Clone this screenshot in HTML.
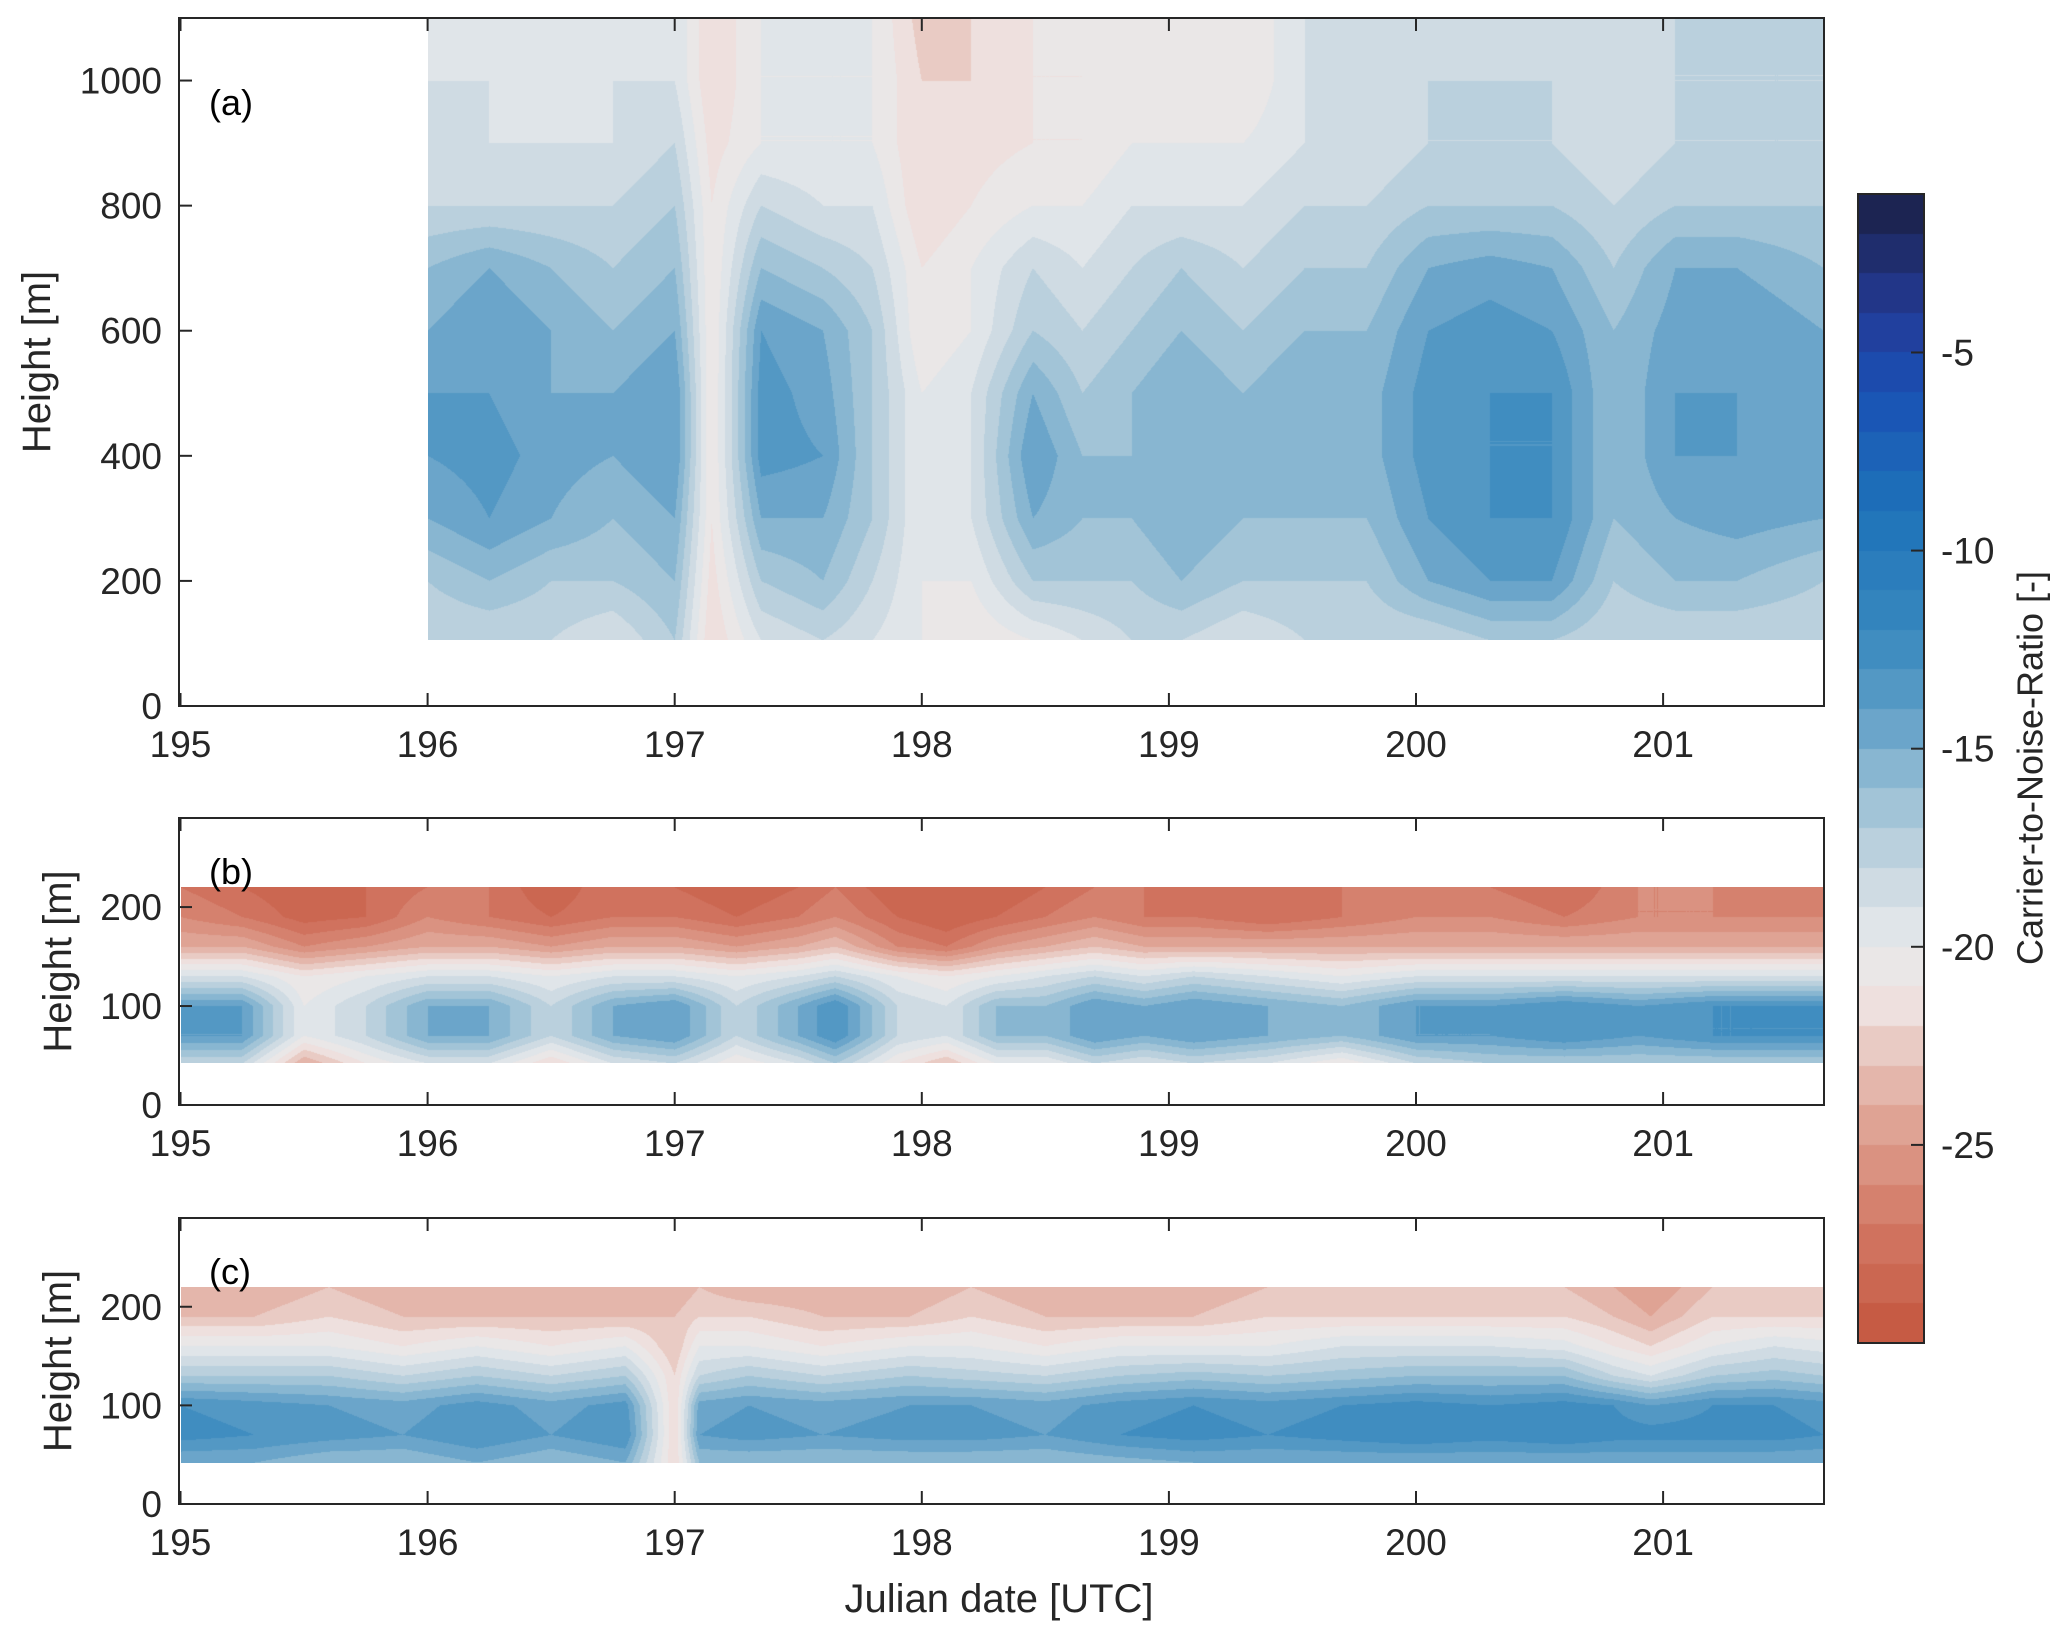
<!DOCTYPE html>
<html><head><meta charset="utf-8">
<style>
html,body{margin:0;padding:0;background:#fff;}
#wrap{position:relative;width:2067px;height:1641px;overflow:hidden;font-family:"Liberation Sans",sans-serif;}
canvas{position:absolute;}
svg{position:absolute;left:0;top:0;}
</style></head>
<body>
<div id="wrap">
<canvas id="ca"></canvas>
<canvas id="cb"></canvas>
<canvas id="cc"></canvas>
<canvas id="cbar"></canvas>
<svg id="svg" width="2067" height="1641"></svg>
</div>
<script>
// ---- data ----
const timesA=[196.0,196.25,196.5,196.75,197.0,197.15,197.35,197.6,197.8,198.0,198.2,198.45,198.65,198.85,199.05,199.3,199.55,199.8,200.05,200.3,200.55,200.8,201.05,201.3,201.65];
const heightsA=[105,200,300,400,500,600,700,800,900,1000,1100];
const cnrA=[
[-18,-17,-15,-14,-14,-15,-16,-18,-19,-19,-20],
[-18,-16,-14,-13.5,-14,-14,-15,-18,-19,-19,-19],
[-18,-17,-15,-14.5,-15,-15,-16,-18,-19,-20,-20],
[-19,-17,-16,-15,-15,-16,-17,-18,-19,-19,-20],
[-17,-16,-15,-14,-14,-15,-16,-17,-18,-19,-19],
[-22,-21.5,-21,-21,-21,-21,-21,-21,-21.5,-22,-22],
[-19,-17,-15,-13.5,-13.5,-14,-16,-18,-20,-20,-20],
[-18,-16,-15,-14,-14.5,-15,-17,-19,-20,-20,-20],
[-19,-18,-17,-17,-17,-17,-18,-19,-20,-20,-20],
[-20,-20,-20,-20,-20,-21,-21,-22,-22,-22,-22.5],
[-21,-20,-19,-19,-19,-20,-20,-21,-21.5,-22,-22],
[-20,-17,-15,-14,-15,-17,-18,-20,-21,-21,-21],
[-19,-17,-16,-16,-17,-18,-19,-20,-21,-21,-21],
[-18,-17,-16,-16,-16,-17,-18,-19,-20,-20,-20],
[-18,-16,-15,-15,-15,-16,-17,-19,-20,-20.5,-21],
[-19,-17,-16,-16,-16,-17,-18,-19,-20,-21,-21],
[-18,-17,-16,-15,-15,-16,-17,-18,-19,-19,-19],
[-18,-17,-16,-15.5,-15.5,-16,-17,-18,-19,-19,-19],
[-18,-15,-14,-13.5,-13.5,-14,-15,-17,-18,-18,-18],
[-17,-14,-13,-13,-13,-13.5,-14.5,-17,-18,-18,-19],
[-17,-14,-13,-13,-13,-14,-15,-17,-18,-18,-18],
[-18,-17,-16,-16,-16,-16,-17,-18,-19,-19,-19],
[-18,-16,-15,-14,-14,-14.5,-15,-17,-18,-18,-18],
[-18,-16,-14.5,-14,-14,-14,-15,-17,-18,-18,-18],
[-18,-17,-15,-14.5,-14.5,-15,-16,-17,-18,-18,-18]];

const timesB=[195.0,195.25,195.5,195.75,196.0,196.25,196.5,196.75,197.0,197.25,197.5,197.65,197.9,198.1,198.3,198.5,198.7,198.9,199.1,199.4,199.7,200.0,200.3,200.6,200.9,201.2,201.4,201.65];
const heightsB=[42,70,100,130,160,190,220];
const cnrB=[
[-18,-14,-14,-19,-24,-26,-27],[-18,-14,-14,-19,-24,-27,-28],[-24,-20,-20,-21,-26,-28.5,-29],[-21,-18,-18,-20,-25,-28,-28],
[-19,-15,-15,-19,-24,-26,-27],[-19,-15,-15,-19,-24,-27,-27],[-22,-18,-18,-20,-25,-28,-29],[-19,-15,-15,-19,-24,-27,-27],
[-18,-14,-14,-19,-24,-27,-28],[-21,-18,-18,-20,-25,-28,-29],[-19,-15,-15,-19,-24,-27,-28],[-17,-13,-13,-18,-23,-26,-27],
[-21,-18,-18,-20,-26,-28,-29],[-23,-19,-19,-21,-27,-29,-29],[-20,-16,-16,-20,-25,-28,-29],[-20,-16,-16,-19,-24,-27,-28],
[-18,-14,-14,-18,-23,-26,-27],[-19,-15,-15,-19,-24,-27,-27],[-18,-14,-14,-18,-24,-27,-28],[-19,-15,-15,-19,-24,-28,-28],
[-21,-16,-16,-20,-24,-27,-27],[-18,-14,-14,-19,-24,-26,-27],[-17,-14,-14,-19,-24,-26,-27],[-17,-13,-13,-19,-24,-27,-28],
[-17,-14,-14,-19,-24,-26,-26],[-17,-13,-13,-19,-24,-26,-26],[-17,-13,-13,-19,-24,-26,-27],[-17,-13,-13,-19,-24,-26,-27]];

const timesC=[195.0,195.3,195.6,195.9,196.2,196.5,196.8,197.0,197.1,197.3,197.6,197.95,198.2,198.5,198.8,199.1,199.4,199.7,200.0,200.3,200.6,200.8,200.95,201.2,201.45,201.65];
const heightsC=[42,70,100,130,160,190,220];
const cnrC=[
[-15,-12.5,-13,-17,-20,-23,-24],[-15,-13,-13.5,-17,-20,-23,-24],[-16,-13.5,-14,-17,-20,-22,-23],[-16,-14,-14.5,-18,-21,-23,-24],
[-15,-13,-13.5,-17,-20,-23,-24],[-16,-14,-14.5,-18,-21,-23,-24],[-15,-13,-13.5,-17,-20,-23,-24],[-22,-22,-22,-22,-23,-23,-24],
[-16,-14,-14.5,-18,-20,-22,-23],[-16,-13.5,-14,-17,-20,-22,-24],[-16,-14,-14.5,-18,-21,-23,-24],[-16,-13.5,-14,-17,-20,-23,-24],
[-16,-13.5,-14,-17.5,-20,-22,-23],[-16,-14,-14.5,-18,-21,-23,-24],[-15.5,-13,-13.5,-17,-20,-23,-24],[-15,-12.5,-13,-16.5,-20,-23,-24],
[-15,-13,-13.5,-17,-20,-22,-23],[-15,-12.5,-13,-16.5,-19,-22,-23],[-15,-12,-12.5,-16,-19,-22,-23],[-15,-12.5,-13,-16,-19,-22,-23],
[-15,-12,-12.5,-16,-19.5,-22,-23],[-15,-12.5,-13,-18,-21,-23,-24],[-15,-12.5,-14,-19,-22,-24,-25],[-15,-12.5,-13,-17,-20,-22,-23],
[-15,-12.5,-13,-16.5,-19,-22,-23],[-15,-13,-13.5,-17,-19.5,-22,-23]];

const xTicks=[195,196,197,198,199,200,201];
const yTicksA=[0,200,400,600,800,1000];
const yTicksB=[0,100,200];
const cbTicks=[-5,-10,-15,-20,-25];
// ---- layout ----
const X0=180.5, DX=247.1, XMIN=195, XMAX=201.65;
const panels=[
 {id:'a',T:18,B:706,ymax:1100,times:timesA,hs:heightsA,v:cnrA,yt:yTicksA,tx:37,label:'(a)',ly:115},
 {id:'b',T:818,B:1105,ymax:290,times:timesB,hs:heightsB,v:cnrB,yt:yTicksB,tx:58,label:'(b)',ly:884},
 {id:'c',T:1218,B:1504,ymax:290,times:timesC,hs:heightsC,v:cnrC,yt:yTicksB,tx:58,label:'(c)',ly:1284}];
const L=179,R=1824;
const CB={L:1858,R:1924,T:194,B:1343,min:-30,max:-1};
const stops=[[-30,[196,85,62]],[-27,[210,120,100]],[-24,[226,172,158]],[-21.5,[238,224,222]],[-20,[232,234,236]],[-18,[198,214,224]],[-16,[150,190,212]],[-14,[92,157,198]],[-12,[55,135,190]],[-9,[30,115,185]],[-6,[25,80,180]],[-4,[35,58,150]],[-1,[26,31,68]]];
function cmap(v){
  v=Math.floor(v)+0.5;
  if(v<=stops[0][0])return stops[0][1];
  for(let i=1;i<stops.length;i++){if(v<=stops[i][0]){const a=stops[i-1],b=stops[i];const t=(v-a[0])/(b[0]-a[0]);return a[1].map((c,k)=>Math.round(c+(b[1][k]-c)*t));}}
  return stops[stops.length-1][1];
}
const xs=t=>X0+(t-XMIN)*DX;
function interp(arr,val){let i=0;while(i<arr.length-2&&val>arr[i+1])i++;let t=(val-arr[i])/(arr[i+1]-arr[i]);return [i,Math.max(0,Math.min(1,t))];}
function drawHeat(p){
  const ys=h=>p.B-(h/p.ymax)*(p.B-p.T);
  const x1=Math.round(xs(p.times[0])),x2=Math.round(xs(p.times[p.times.length-1]));
  const y1=Math.round(ys(p.hs[p.hs.length-1])),y2=Math.round(ys(p.hs[0]));
  const c=document.getElementById('c'+p.id);c.width=x2-x1;c.height=y2-y1;c.style.left=x1+'px';c.style.top=y1+'px';
  const ctx=c.getContext('2d');const img=ctx.createImageData(c.width,c.height);
  for(let px=0;px<c.width;px++){
    const t=XMIN+(x1+px+0.5-X0)/DX;const [i,ft]=interp(p.times,t);
    for(let py=0;py<c.height;py++){
      const h=(p.B-(y1+py+0.5))/(p.B-p.T)*p.ymax;const [j,fh]=interp(p.hs,h);
      const v=(p.v[i][j]*(1-fh)+p.v[i][j+1]*fh)*(1-ft)+(p.v[i+1][j]*(1-fh)+p.v[i+1][j+1]*fh)*ft;
      const col=cmap(v);const k=(py*c.width+px)*4;
      img.data[k]=col[0];img.data[k+1]=col[1];img.data[k+2]=col[2];img.data[k+3]=255;
    }
  }
  ctx.putImageData(img,0,0);
}
panels.forEach(drawHeat);
(function(){const c=document.getElementById('cbar');c.width=CB.R-CB.L;c.height=CB.B-CB.T;c.style.left=CB.L+'px';c.style.top=CB.T+'px';
const ctx=c.getContext('2d');for(let py=0;py<c.height;py++){const v=CB.max-(py+0.5)/c.height*(CB.max-CB.min);const col=cmap(v);ctx.fillStyle='rgb('+col.join(',')+')';ctx.fillRect(0,py,c.width,1);}})();
const svg=document.getElementById('svg');const NS='http://www.w3.org/2000/svg';
function mk(tag,attrs,parent){const e=document.createElementNS(NS,tag);for(const k in attrs)e.setAttribute(k,attrs[k]);(parent||svg).appendChild(e);return e;}
panels.forEach(p=>{
  const g=mk('g',{});
  
  
  const fr=mk('rect',{x:L,y:p.T,width:R-L,height:p.B-p.T,fill:'none',stroke:'#262626','stroke-width':2},g);
  
  
  const ys=h=>p.B-(h/p.ymax)*(p.B-p.T);
  xTicks.forEach(t=>{const x=xs(t);
    mk('line',{x1:x,x2:x,y1:p.B,y2:p.B-13,stroke:'#262626','stroke-width':2},g);
    mk('line',{x1:x,x2:x,y1:p.T,y2:p.T+13,stroke:'#262626','stroke-width':2},g);
    const tx=mk('text',{x:x,y:p.B+51,'font-size':37,'text-anchor':'middle',fill:'#262626'},g);tx.textContent=t;
    
    
  });
  p.yt.forEach(h=>{const y=ys(h);
    mk('line',{x1:L,x2:L+13,y1:y,y2:y,stroke:'#262626','stroke-width':2},g);
    const tx=mk('text',{x:L-17,y:y+13,'font-size':37,'text-anchor':'end',fill:'#262626'},g);tx.textContent=h;
    
    
  });
  const cy=(p.T+p.B)/2;
  const yt=mk('text',{x:p.tx,y:cy,'font-size':40,'text-anchor':'middle',fill:'#262626',transform:'rotate(-90 '+p.tx+' '+cy+')','dominant-baseline':'central'},g);yt.textContent='Height [m]';
  
  
  const lb=mk('text',{x:209,y:p.ly,'font-size':36,fill:'#000'},g);lb.textContent=p.label;
  
  
});
const xt=mk('text',{x:999,y:1612,'font-size':40,'text-anchor':'middle',fill:'#262626'});xt.textContent='Julian date [UTC]';


const cbg=mk('g',{});


mk('rect',{x:CB.L,y:CB.T,width:CB.R-CB.L,height:CB.B-CB.T,fill:'none',stroke:'#262626','stroke-width':2},cbg);
cbTicks.forEach(v=>{const y=CB.B-(v-CB.min)/(CB.max-CB.min)*(CB.B-CB.T);
  mk('line',{x1:CB.R-13,x2:CB.R,y1:y,y2:y,stroke:'#262626','stroke-width':2},cbg);
  const t=mk('text',{x:CB.R+17,y:y+13,'font-size':37,fill:'#262626'},cbg);t.textContent=v;
  
  
});
const ct=mk('text',{x:2030,y:768,'font-size':36,'text-anchor':'middle','dominant-baseline':'central',fill:'#262626',transform:'rotate(-90 2030 768)'});ct.textContent='Carrier-to-Noise-Ratio [-]';


</script>
</body></html>
